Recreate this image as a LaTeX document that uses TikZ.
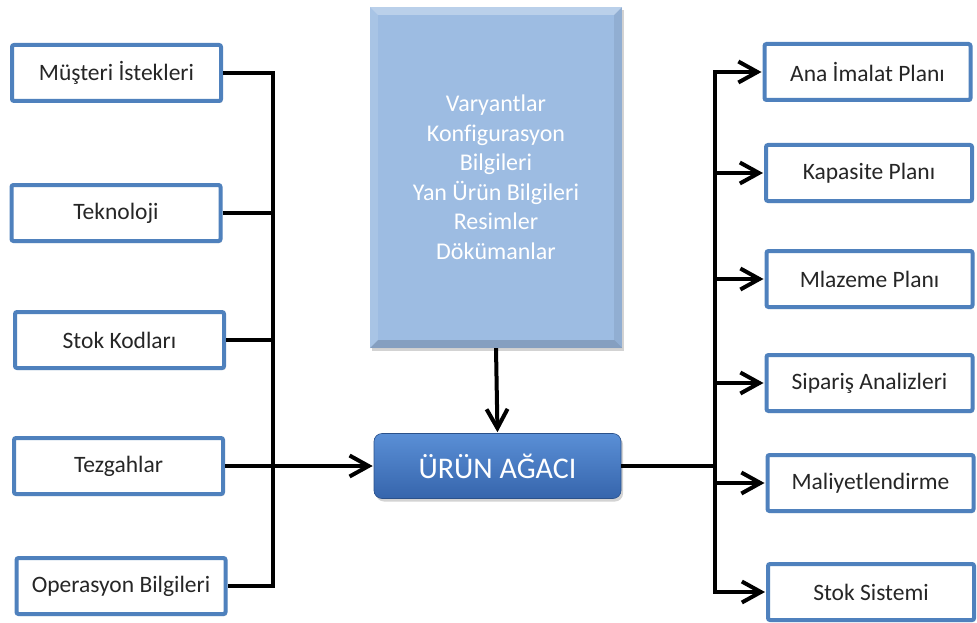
\documentclass[tikz,border=0pt]{standalone}
\usepackage{fontspec}
\setmainfont{Carlito}[Ligatures=NoCommon]
\usetikzlibrary{arrows.meta,calc,shadows}
\definecolor{frameblue}{HTML}{4F81BD}
\definecolor{panelblue}{HTML}{9DBCE2}
\definecolor{treetop}{HTML}{5A8FD6}
\definecolor{treebot}{HTML}{3665AC}
\begin{document}
\begin{tikzpicture}[x=1pt,y=-1pt,
  inbox/.style={draw=frameblue, line width=4pt, fill=white, rounded corners=2pt,
    minimum width=209pt, minimum height=56pt, inner sep=0pt,
    font=\fontsize{23.5}{27}\selectfont, text=black!85,
    drop shadow={opacity=0.25, shadow xshift=1.5pt, shadow yshift=-2pt}},
  outbox/.style={inbox, minimum width=206pt},
  panel/.style={fill=panelblue, minimum width=252pt, minimum height=341pt,
    inner sep=0pt, align=center, text=white, font=\fontsize{24}{29.5}\selectfont,
    drop shadow={opacity=0.35, shadow xshift=2pt, shadow yshift=-3pt}},
  tree/.style={rounded corners=8pt, top color=treetop, bottom color=treebot,
    draw=treebot!80!black, line width=0.6pt,
    minimum width=247pt, minimum height=65pt, inner sep=0pt,
    text=white, font=\fontsize{30}{33}\selectfont,
    drop shadow={opacity=0.35, shadow xshift=2pt, shadow yshift=-3pt}},
  conn/.style={line width=4pt, black},
  barb/.style={-{Straight Barb[length=19pt,width=21pt,line width=4pt]}, shorten >=1pt}
]
\useasboundingbox (0,0) rectangle (977,623);

% inputs on the left
\node[inbox] (l1) at (116.5,73) {Müşteri İstekleri};
\node[inbox] (l2) at (116,213) {Teknoloji};
\node[inbox] (l3) at (119.5,340) {Stok Kodları};
\node[inbox] (l4) at (118.5,466) {Tezgahlar};
\node[inbox] (l5) at (121,586) {Operasyon Bilgileri};

% product data panel
\node[panel] (t) at (496,177.5) {Varyantlar\\Konfigurasyon\\Bilgileri\\Yan Ürün Bilgileri\\Resimler\\Dökümanlar};
\fill[white, opacity=0.3] (t.north west) -- (t.north east) -- ($(t.north east)+(-8,8)$) -- ($(t.north west)+(8,8)$) -- cycle;
\fill[white, opacity=0.12] (t.north west) -- ($(t.north west)+(8,8)$) -- ($(t.south west)+(8,-8)$) -- (t.south west) -- cycle;
\fill[black, opacity=0.07] (t.north east) -- ($(t.north east)+(-8,8)$) -- ($(t.south east)+(-8,-8)$) -- (t.south east) -- cycle;
\fill[black, opacity=0.15] (t.south west) -- (t.south east) -- ($(t.south east)+(-8,-8)$) -- ($(t.south west)+(8,-8)$) -- cycle;

% product tree
\node[tree] (u) at (497.5,466) {ÜRÜN AĞACI};

% outputs on the right
\node[outbox] (r1) at (867.5,72) {Ana İmalat Planı};
\node[outbox] (r2) at (869,173) {Kapasite Planı};
\node[outbox] (r3) at (869.5,279) {Mlazeme Planı};
\node[outbox] (r4) at (869.5,383) {Sipariş Analizleri};
\node[outbox] (r5) at (870.5,483) {Maliyetlendirme};
\node[outbox] (r6) at (871,592) {Stok Sistemi};

% bus positions
\coordinate (lb) at (273,586);
\coordinate (rb) at (715,466);

% left collector
\draw[conn] (l1.east) -| (lb) -- (l5.east);
\draw[conn] (l2.east) -- (l2.east -| lb);
\draw[conn] (l3.east) -- (l3.east -| lb);
\draw[conn, barb] (l4.east) -- (u.west);

% panel into tree
\draw[conn, barb] (t.south) -- (u.north);

% right distributor
\draw[conn] (u.east) -- (rb);
\draw[conn, barb] (rb) |- (r1.west);
\draw[conn, barb] (rb) |- (r6.west);
\draw[conn, barb] (r2.west -| rb) -- (r2.west);
\draw[conn, barb] (r3.west -| rb) -- (r3.west);
\draw[conn, barb] (r4.west -| rb) -- (r4.west);
\draw[conn, barb] (r5.west -| rb) -- (r5.west);
\end{tikzpicture}
\end{document}
